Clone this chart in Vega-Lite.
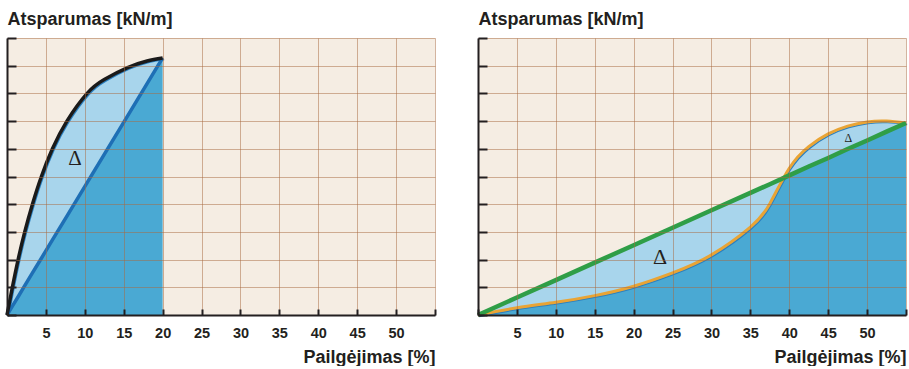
{
  "$schema": "https://vega.github.io/schema/vega-lite/v6.json",
  "padding": {"left": 0, "top": 10, "right": 0, "bottom": 0},
  "spacing": 33,
  "config": {
    "view": {"fill": "#f5ede3", "stroke": null},
    "axis": {"zindex": 1, "grid": true, "gridColor": "#a86a40", "gridOpacity": 0.5, "gridWidth": 1, "domainColor": "#231f20", "domainWidth": 2, "tickColor": "#231f20", "tickWidth": 2, "minExtent": 0, "labelOverlap": false, "titleFont": "Liberation Sans", "titleFontSize": 18, "titleFontWeight": "bold", "titleColor": "#231f20", "labelFont": "Liberation Sans", "labelFontSize": 14.5, "labelFontWeight": "bold", "labelColor": "#231f20"}
  },
  "hconcat": [
    {
      "width": 428,
      "height": 277,
      "data": {"values": [
        {"x": 0, "curve": 0, "line": 0},
        {"x": 0.69, "curve": 1, "line": 0.32},
        {"x": 1.43, "curve": 2, "line": 0.66},
        {"x": 2.28, "curve": 3, "line": 1.06},
        {"x": 3.27, "curve": 4, "line": 1.52},
        {"x": 4.42, "curve": 5, "line": 2.05},
        {"x": 5.84, "curve": 6, "line": 2.71},
        {"x": 7.7, "curve": 7, "line": 3.57},
        {"x": 10.3, "curve": 8, "line": 4.78},
        {"x": 12.5, "curve": 8.5, "line": 5.8},
        {"x": 15.5, "curve": 8.93, "line": 7.19},
        {"x": 18, "curve": 9.17, "line": 8.35},
        {"x": 20, "curve": 9.28, "line": 9.28}
      ]},
      "layer": [
        {
          "mark": {"type": "area", "color": "#4aa9d3", "interpolate": "natural"},
          "encoding": {
            "x": {"field": "x", "type": "quantitative", "title": "Pailgėjimas [%]", "scale": {"domain": [0, 55], "nice": false, "zero": false},
              "axis": {"zindex": 1, "titleX": 428, "titleY": 47, "titleAlign": "right", "titleBaseline": "alphabetic", "values": [0, 5, 10, 15, 20, 25, 30, 35, 40, 45, 50, 55], "labelExpr": "datum.value == 0 || datum.value == 55 ? '' : datum.label", "tickSize": -6, "labelPadding": 28, "labelBaseline": "alphabetic"}},
            "y": {"field": "line", "type": "quantitative", "title": "Atsparumas [kN/m]", "scale": {"domain": [0, 10], "nice": false},
              "axis": {"zindex": 1, "titleAngle": 0, "titleX": 0, "titleY": -14, "titleAlign": "left", "titleBaseline": "alphabetic", "labels": false, "values": [0, 1, 2, 3, 4, 5, 6, 7, 8, 9, 10], "tickSize": -9}}
          }
        },
        {
          "mark": {"type": "area", "color": "#a8d5ec", "interpolate": "natural"},
          "encoding": {
            "x": {"field": "x", "type": "quantitative", "title": "Pailgėjimas [%]",
              "axis": {"zindex": 1, "titleX": 428, "titleY": 47, "titleAlign": "right", "titleBaseline": "alphabetic", "values": [0, 5, 10, 15, 20, 25, 30, 35, 40, 45, 50, 55], "labelExpr": "datum.value == 0 || datum.value == 55 ? '' : datum.label", "tickSize": -6, "labelPadding": 28, "labelBaseline": "alphabetic"}},
            "y": {"field": "curve", "type": "quantitative", "title": "Atsparumas [kN/m]",
              "axis": {"zindex": 1, "titleAngle": 0, "titleX": 0, "titleY": -14, "titleAlign": "left", "titleBaseline": "alphabetic", "labels": false, "values": [0, 1, 2, 3, 4, 5, 6, 7, 8, 9, 10], "tickSize": -9}},
            "y2": {"field": "line"}
          }
        },
        {
          "mark": {"type": "line", "color": "#2a7fc0", "strokeWidth": 1.5, "interpolate": "natural", "xOffset": 1.5, "yOffset": 1.5},
          "encoding": {
            "x": {"field": "x", "type": "quantitative", "title": "Pailgėjimas [%]",
              "axis": {"zindex": 1, "titleX": 428, "titleY": 47, "titleAlign": "right", "titleBaseline": "alphabetic", "values": [0, 5, 10, 15, 20, 25, 30, 35, 40, 45, 50, 55], "labelExpr": "datum.value == 0 || datum.value == 55 ? '' : datum.label", "tickSize": -6, "labelPadding": 28, "labelBaseline": "alphabetic"}},
            "y": {"field": "curve", "type": "quantitative", "title": "Atsparumas [kN/m]",
              "axis": {"zindex": 1, "titleAngle": 0, "titleX": 0, "titleY": -14, "titleAlign": "left", "titleBaseline": "alphabetic", "labels": false, "values": [0, 1, 2, 3, 4, 5, 6, 7, 8, 9, 10], "tickSize": -9}}
          }
        },
        {
          "mark": {"type": "line", "color": "#1e6fb5", "strokeWidth": 3.5},
          "encoding": {
            "x": {"field": "x", "type": "quantitative", "title": "Pailgėjimas [%]",
              "axis": {"zindex": 1, "titleX": 428, "titleY": 47, "titleAlign": "right", "titleBaseline": "alphabetic", "values": [0, 5, 10, 15, 20, 25, 30, 35, 40, 45, 50, 55], "labelExpr": "datum.value == 0 || datum.value == 55 ? '' : datum.label", "tickSize": -6, "labelPadding": 28, "labelBaseline": "alphabetic"}},
            "y": {"field": "line", "type": "quantitative", "title": "Atsparumas [kN/m]",
              "axis": {"zindex": 1, "titleAngle": 0, "titleX": 0, "titleY": -14, "titleAlign": "left", "titleBaseline": "alphabetic", "labels": false, "values": [0, 1, 2, 3, 4, 5, 6, 7, 8, 9, 10], "tickSize": -9}}
          }
        },
        {
          "mark": {"type": "line", "color": "#1a1a1a", "strokeWidth": 3.5, "interpolate": "natural"},
          "encoding": {
            "x": {"field": "x", "type": "quantitative", "title": "Pailgėjimas [%]",
              "axis": {"zindex": 1, "titleX": 428, "titleY": 47, "titleAlign": "right", "titleBaseline": "alphabetic", "values": [0, 5, 10, 15, 20, 25, 30, 35, 40, 45, 50, 55], "labelExpr": "datum.value == 0 || datum.value == 55 ? '' : datum.label", "tickSize": -6, "labelPadding": 28, "labelBaseline": "alphabetic"}},
            "y": {"field": "curve", "type": "quantitative", "title": "Atsparumas [kN/m]",
              "axis": {"zindex": 1, "titleAngle": 0, "titleX": 0, "titleY": -14, "titleAlign": "left", "titleBaseline": "alphabetic", "labels": false, "values": [0, 1, 2, 3, 4, 5, 6, 7, 8, 9, 10], "tickSize": -9}}
          }
        },
        {
          "data": {"values": [{"x": 8.75, "y": 5.63, "t": "Δ"}]},
          "mark": {"type": "text", "font": "Liberation Serif", "fontSize": 21, "color": "#231f20", "baseline": "middle", "align": "center"},
          "encoding": {
            "x": {"field": "x", "type": "quantitative", "title": "Pailgėjimas [%]",
              "axis": {"zindex": 1, "titleX": 428, "titleY": 47, "titleAlign": "right", "titleBaseline": "alphabetic", "values": [0, 5, 10, 15, 20, 25, 30, 35, 40, 45, 50, 55], "labelExpr": "datum.value == 0 || datum.value == 55 ? '' : datum.label", "tickSize": -6, "labelPadding": 28, "labelBaseline": "alphabetic"}},
            "y": {"field": "y", "type": "quantitative", "title": "Atsparumas [kN/m]",
              "axis": {"zindex": 1, "titleAngle": 0, "titleX": 0, "titleY": -14, "titleAlign": "left", "titleBaseline": "alphabetic", "labels": false, "values": [0, 1, 2, 3, 4, 5, 6, 7, 8, 9, 10], "tickSize": -9}},
            "text": {"field": "t"}
          }
        }
      ]
    },
    {
      "width": 428,
      "height": 277,
      "data": {"values": [
        {"x": 0, "curve": 0, "line": 0},
        {"x": 5, "curve": 0.26, "line": 0.63},
        {"x": 10, "curve": 0.46, "line": 1.26},
        {"x": 15, "curve": 0.7, "line": 1.89},
        {"x": 20, "curve": 1.04, "line": 2.52},
        {"x": 25, "curve": 1.52, "line": 3.15},
        {"x": 30, "curve": 2.17, "line": 3.78},
        {"x": 35, "curve": 3.17, "line": 4.41},
        {"x": 37.5, "curve": 4.02, "line": 4.72},
        {"x": 40, "curve": 5.3, "line": 5.04},
        {"x": 42.5, "curve": 6.08, "line": 5.36},
        {"x": 45, "curve": 6.54, "line": 5.67},
        {"x": 47.5, "curve": 6.82, "line": 5.99},
        {"x": 50, "curve": 6.97, "line": 6.3},
        {"x": 52.5, "curve": 7.0, "line": 6.62},
        {"x": 55, "curve": 6.93, "line": 6.93}
      ]},
      "layer": [
        {
          "mark": {"type": "area", "color": "#4aa9d3", "interpolate": "natural"},
          "encoding": {
            "x": {"field": "x", "type": "quantitative", "title": "Pailgėjimas [%]", "scale": {"domain": [0, 55], "nice": false, "zero": false},
              "axis": {"zindex": 1, "titleX": 428, "titleY": 47, "titleAlign": "right", "titleBaseline": "alphabetic", "values": [0, 5, 10, 15, 20, 25, 30, 35, 40, 45, 50, 55], "labelExpr": "datum.value == 0 || datum.value == 55 ? '' : datum.label", "tickSize": -6, "labelPadding": 28, "labelBaseline": "alphabetic"}},
            "y": {"field": "line", "type": "quantitative", "title": "Atsparumas [kN/m]", "scale": {"domain": [0, 10], "nice": false},
              "axis": {"zindex": 1, "titleAngle": 0, "titleX": 0, "titleY": -14, "titleAlign": "left", "titleBaseline": "alphabetic", "labels": false, "values": [0, 1, 2, 3, 4, 5, 6, 7, 8, 9, 10], "tickSize": -9}}
          }
        },
        {
          "mark": {"type": "area", "color": "#a8d5ec", "interpolate": "natural"},
          "encoding": {
            "x": {"field": "x", "type": "quantitative", "title": "Pailgėjimas [%]",
              "axis": {"zindex": 1, "titleX": 428, "titleY": 47, "titleAlign": "right", "titleBaseline": "alphabetic", "values": [0, 5, 10, 15, 20, 25, 30, 35, 40, 45, 50, 55], "labelExpr": "datum.value == 0 || datum.value == 55 ? '' : datum.label", "tickSize": -6, "labelPadding": 28, "labelBaseline": "alphabetic"}},
            "y": {"field": "curve", "type": "quantitative", "title": "Atsparumas [kN/m]",
              "axis": {"zindex": 1, "titleAngle": 0, "titleX": 0, "titleY": -14, "titleAlign": "left", "titleBaseline": "alphabetic", "labels": false, "values": [0, 1, 2, 3, 4, 5, 6, 7, 8, 9, 10], "tickSize": -9}},
            "y2": {"field": "line"}
          }
        },
        {
          "mark": {"type": "line", "color": "#2a7fc0", "strokeWidth": 1.5, "interpolate": "natural", "xOffset": 1.2, "yOffset": 1.5},
          "encoding": {
            "x": {"field": "x", "type": "quantitative", "title": "Pailgėjimas [%]",
              "axis": {"zindex": 1, "titleX": 428, "titleY": 47, "titleAlign": "right", "titleBaseline": "alphabetic", "values": [0, 5, 10, 15, 20, 25, 30, 35, 40, 45, 50, 55], "labelExpr": "datum.value == 0 || datum.value == 55 ? '' : datum.label", "tickSize": -6, "labelPadding": 28, "labelBaseline": "alphabetic"}},
            "y": {"field": "curve", "type": "quantitative", "title": "Atsparumas [kN/m]",
              "axis": {"zindex": 1, "titleAngle": 0, "titleX": 0, "titleY": -14, "titleAlign": "left", "titleBaseline": "alphabetic", "labels": false, "values": [0, 1, 2, 3, 4, 5, 6, 7, 8, 9, 10], "tickSize": -9}}
          }
        },
        {
          "mark": {"type": "line", "color": "#e9a435", "strokeWidth": 3, "interpolate": "natural"},
          "encoding": {
            "x": {"field": "x", "type": "quantitative", "title": "Pailgėjimas [%]",
              "axis": {"zindex": 1, "titleX": 428, "titleY": 47, "titleAlign": "right", "titleBaseline": "alphabetic", "values": [0, 5, 10, 15, 20, 25, 30, 35, 40, 45, 50, 55], "labelExpr": "datum.value == 0 || datum.value == 55 ? '' : datum.label", "tickSize": -6, "labelPadding": 28, "labelBaseline": "alphabetic"}},
            "y": {"field": "curve", "type": "quantitative", "title": "Atsparumas [kN/m]",
              "axis": {"zindex": 1, "titleAngle": 0, "titleX": 0, "titleY": -14, "titleAlign": "left", "titleBaseline": "alphabetic", "labels": false, "values": [0, 1, 2, 3, 4, 5, 6, 7, 8, 9, 10], "tickSize": -9}}
          }
        },
        {
          "mark": {"type": "line", "color": "#2f9e47", "strokeWidth": 4.5},
          "encoding": {
            "x": {"field": "x", "type": "quantitative", "title": "Pailgėjimas [%]",
              "axis": {"zindex": 1, "titleX": 428, "titleY": 47, "titleAlign": "right", "titleBaseline": "alphabetic", "values": [0, 5, 10, 15, 20, 25, 30, 35, 40, 45, 50, 55], "labelExpr": "datum.value == 0 || datum.value == 55 ? '' : datum.label", "tickSize": -6, "labelPadding": 28, "labelBaseline": "alphabetic"}},
            "y": {"field": "line", "type": "quantitative", "title": "Atsparumas [kN/m]",
              "axis": {"zindex": 1, "titleAngle": 0, "titleX": 0, "titleY": -14, "titleAlign": "left", "titleBaseline": "alphabetic", "labels": false, "values": [0, 1, 2, 3, 4, 5, 6, 7, 8, 9, 10], "tickSize": -9}}
          }
        },
        {
          "data": {"values": [{"x": 23.4, "y": 2.09, "t": "Δ", "s": "big"}, {"x": 47.6, "y": 6.4, "t": "Δ", "s": "small"}]},
          "mark": {"type": "text", "font": "Liberation Serif", "color": "#231f20", "baseline": "middle", "align": "center"},
          "encoding": {
            "x": {"field": "x", "type": "quantitative", "title": "Pailgėjimas [%]",
              "axis": {"zindex": 1, "titleX": 428, "titleY": 47, "titleAlign": "right", "titleBaseline": "alphabetic", "values": [0, 5, 10, 15, 20, 25, 30, 35, 40, 45, 50, 55], "labelExpr": "datum.value == 0 || datum.value == 55 ? '' : datum.label", "tickSize": -6, "labelPadding": 28, "labelBaseline": "alphabetic"}},
            "y": {"field": "y", "type": "quantitative", "title": "Atsparumas [kN/m]",
              "axis": {"zindex": 1, "titleAngle": 0, "titleX": 0, "titleY": -14, "titleAlign": "left", "titleBaseline": "alphabetic", "labels": false, "values": [0, 1, 2, 3, 4, 5, 6, 7, 8, 9, 10], "tickSize": -9}},
            "text": {"field": "t"},
            "size": {"field": "s", "type": "nominal", "scale": {"domain": ["big", "small"], "range": [22, 12]}, "legend": null}
          }
        }
      ]
    }
  ]
}
